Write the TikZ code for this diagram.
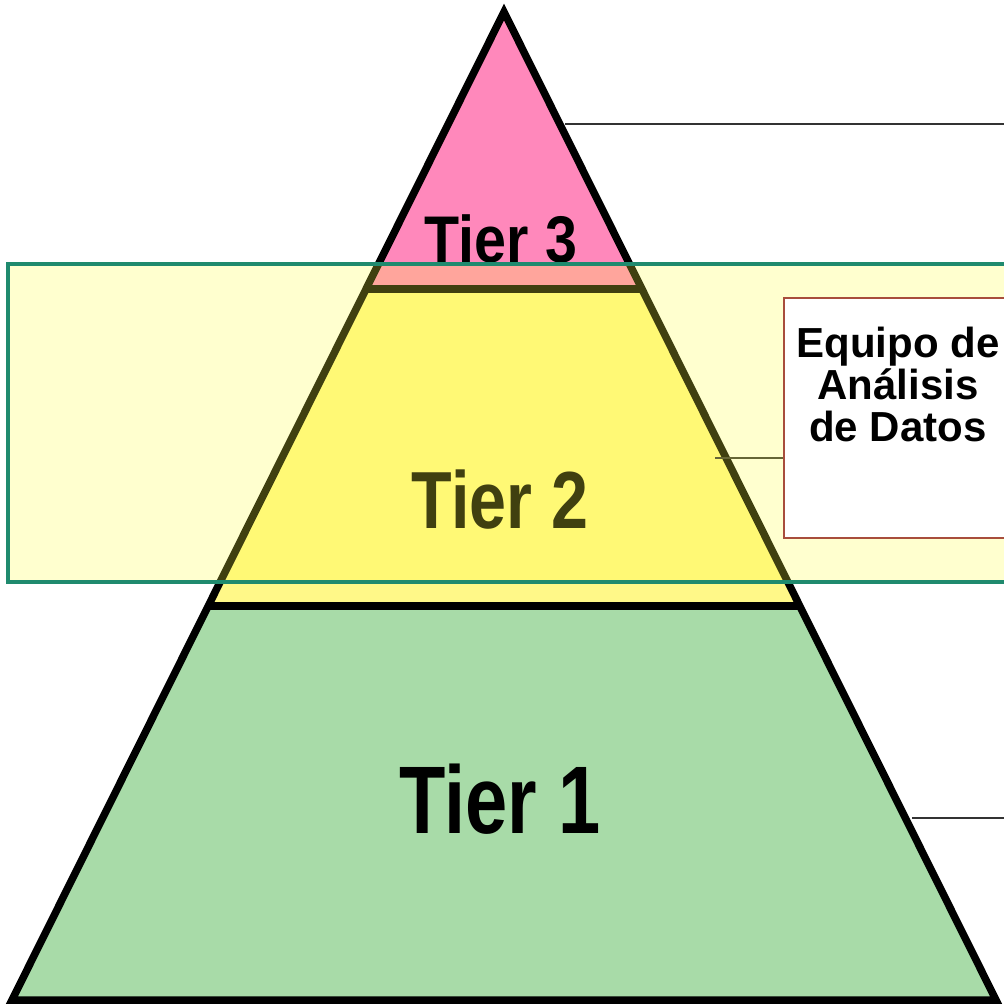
\documentclass[tikz,border=0pt]{standalone}
\usepackage{fontspec}
\setmainfont{Liberation Sans}
\usetikzlibrary{calc}
\definecolor{tierpink}{HTML}{FF88BB}
\definecolor{tieryellow}{HTML}{FFF888}
\definecolor{tiergreen}{HTML}{A8DBA8}
\definecolor{bandteal}{HTML}{1F8A6E}
\definecolor{bandfill}{HTML}{FFFF40}
\definecolor{boxedge}{HTML}{A84E3C}
\definecolor{leadercol}{HTML}{333333}
\begin{document}
\begin{tikzpicture}[x=1pt,y=-1pt,
  tieredge/.style={line width=7.5pt, line join=miter, draw=black},
  tierlabel/.style={anchor=base, inner sep=0pt, text=black},
  leaderline/.style={draw=leadercol, line width=1.6pt},
  bandbox/.style={draw=bandteal, line width=4pt, fill=bandfill, fill opacity=0.25,
    minimum width=1022pt, minimum height=318pt, inner sep=0pt},
  teambox/.style={draw=boxedge, line width=1.6pt, fill=white,
    minimum width=246pt, minimum height=240pt, inner sep=0pt},
  teamtext/.style={anchor=north, inner sep=0pt, align=center,
    font=\fontsize{42}{42}\selectfont\bfseries}
]
\useasboundingbox (0,0) rectangle (1004,1005);
\fill[white] (0,0) rectangle (1004,1005);
% pyramid corners
\coordinate (apex) at (504,12);
\coordinate (bl) at (12,1000);
\coordinate (br) at (996,1000);
\coordinate (l3) at ($(apex)!0.2804!(bl)$);
\coordinate (r3) at ($(apex)!0.2804!(br)$);
\coordinate (l2) at ($(apex)!0.6012!(bl)$);
\coordinate (r2) at ($(apex)!0.6012!(br)$);
% fills
\fill[tiergreen] (apex) -- (bl) -- (br) -- cycle;
\fill[tieryellow] (apex) -- (l2) -- (r2) -- cycle;
\fill[tierpink] (apex) -- (l3) -- (r3) -- cycle;
% dividers and outline
\draw[tieredge] (l3) -- (r3);
\draw[tieredge] (l2) -- (r2);
\draw[tieredge] (apex) -- (bl) -- (br) -- cycle;
% tier labels
\node[tierlabel, font=\fontsize{66}{70}\selectfont\bfseries] (tier3) at (501,262) {\scalebox{0.87}[1]{Tier 3}};
\node[tierlabel, font=\fontsize{81}{86}\selectfont\bfseries] (tier2) at (500,528) {\scalebox{0.82}[1]{Tier 2}};
\node[tierlabel, font=\fontsize{96}{100}\selectfont\bfseries] (tier1) at (500,833) {\scalebox{0.79}[1]{Tier 1}};
% leaders
\coordinate (t3edge) at (565,124);
\coordinate (t3end) at (1010,124);
\coordinate (t1edge) at (912,818);
\coordinate (t1end) at (1010,818);
\coordinate (t2edge) at (715,458);
\draw[leaderline] (t3edge) -- (t3end);
\draw[leaderline] (t1edge) -- (t1end);
% team box position
\node[teambox, draw=none, fill=none] (teamspot) at (907,418) {};
\draw[leaderline] (t2edge) -- (t2edge -| teamspot.west);
% highlighted band
\node[bandbox] (band) at (519,423) {};
% team box
\node[teambox] (team) at (907,418) {};
\node[teamtext] (teamlabel) at (898,327) {Equipo de\\Análisis\\de Datos};
\end{tikzpicture}
\end{document}
